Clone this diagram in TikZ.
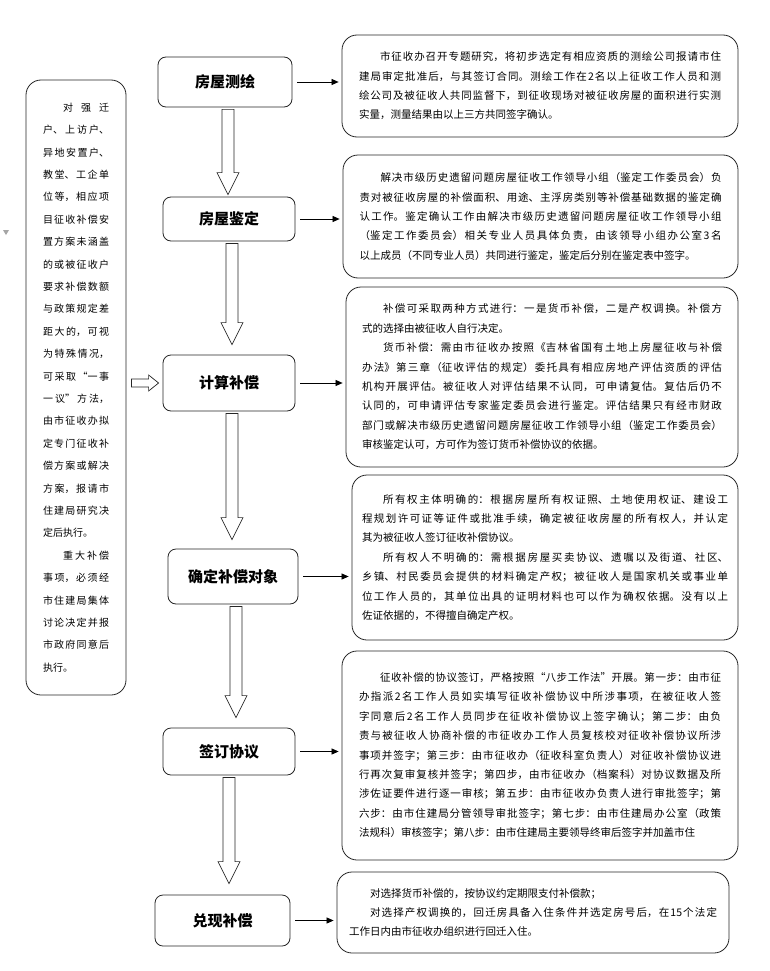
\documentclass[tikz,border=0pt]{standalone}
\usepackage{fontspec}
\setmainfont{Noto Sans CJK SC}
\usetikzlibrary{calc,arrows.meta}
\XeTeXlinebreaklocale "zh"
\XeTeXlinebreakskip=0pt plus 2pt
\tolerance=10000
\hbadness=10000
\hfuzz=20pt
\newcommand\hdown[4]{%
\draw[hollow] let \p1=(#1.south), \p2=(#2.north) in
 (#3pt-6pt,\y1-2pt) -- (#3pt+6pt,\y1-2pt) -- (#3pt+6pt,\y2+#4pt+22pt) -- (#3pt+11pt,\y2+#4pt+22pt) -- (#3pt,\y2+#4pt) -- (#3pt-11pt,\y2+#4pt+22pt) -- (#3pt-6pt,\y2+#4pt+22pt) -- cycle;}
\newcommand\hright[2]{%
\draw[hollow] let \p1=(#1.east), \p2=(#2.west) in
 (\x1+5pt,\y2+4pt) -- (\x2-14pt,\y2+4pt) -- (\x2-14pt,\y2+8pt) -- (\x2-4pt,\y2) -- (\x2-14pt,\y2-8pt) -- (\x2-14pt,\y2-4pt) -- (\x1+5pt,\y2-4pt) -- cycle;}
\tikzset{
  stepbox/.style={draw=black!85, line width=0.8pt, rounded corners=8pt, inner sep=0pt,
    font=\fontsize{15}{18}\selectfont\bfseries},
  descbox/.style={draw=black!85, line width=0.8pt, rounded corners=15pt, inner sep=0pt,
    align=justify, font=\fontsize{10.5}{19.4}\selectfont},
  sidebox/.style={draw=black!85, line width=0.8pt, rounded corners=15pt, inner sep=0pt,
    align=justify, font=\fontsize{10}{22.4}\selectfont},
  conn/.style={draw=black, line width=0.7pt, -{Triangle[length=7pt,width=6pt]}, shorten >=3pt},
  hollow/.style={draw=black!85, line width=0.7pt, fill=white, line join=miter}
}
\begin{document}
\begin{tikzpicture}[x=1pt,y=-1pt]
\useasboundingbox (0,0) rectangle (770,971);
\fill[white] (0,0) rectangle (770,971);
\fill[black!35] (3,230) -- (9,230) -- (6,235) -- cycle;

% step boxes
\node[stepbox, minimum width=134pt, minimum height=50pt] (s1) at (225,82) {房屋测绘};
\node[stepbox, minimum width=132pt, minimum height=44pt] (s2) at (229,219) {房屋鉴定};
\node[stepbox, minimum width=132pt, minimum height=56pt] (s3) at (229,383) {计算补偿};
\node[stepbox, minimum width=130pt, minimum height=55pt] (s4) at (233,576.5) {确定补偿对象};
\node[stepbox, minimum width=132pt, minimum height=47pt] (s5) at (229,751.5) {签订协议};
\node[stepbox, minimum width=135pt, minimum height=51pt] (s6) at (222.5,920.5) {兑现补偿};

% left side box
\node[sidebox, text width=66pt, minimum width=100pt, minimum height=615pt] (L) at (76,387.5) {%
\hspace*{2em}对强迁\linebreak
户、上访户、\linebreak
异地安置户、\linebreak
教堂、工企单\linebreak
位等，相应项\linebreak
目征收补偿安\linebreak
置方案未涵盖\linebreak
的或被征收户\linebreak
要求补偿数额\linebreak
与政策规定差\linebreak
距大的，可视\linebreak
为特殊情况，\linebreak
可采取“一事\linebreak
一议”方法，\linebreak
由市征收办拟\linebreak
定专门征收补\linebreak
偿方案或解决\linebreak
方案，报请市\linebreak
住建局研究决\linebreak
定后执行。\par
\hspace*{2em}重大补偿\linebreak
事项，必须经\linebreak
市住建局集体\linebreak
讨论决定并报\linebreak
市政府同意后\linebreak
执行。};

% description boxes
\node[descbox, text width=362pt, minimum width=396pt, minimum height=102pt] (r1) at (540,86) {%
\hspace*{2em}市征收办召开专题研究，将初步选定有相应资质的测绘公司报请市住\linebreak
建局审定批准后，与其签订合同。测绘工作在2名以上征收工作人员和测\linebreak
绘公司及被征收人共同监督下，到征收现场对被征收房屋的面积进行实测\linebreak
实量，测量结果由以上三方共同签字确认。};

\node[descbox, text width=362pt, minimum width=395pt, minimum height=123pt] (r2) at (540.5,216.5) {%
\hspace*{2em}解决市级历史遗留问题房屋征收工作领导小组（鉴定工作委员会）负\linebreak
责对被征收房屋的补偿面积、用途、主浮房类别等补偿基础数据的鉴定确\linebreak
认工作。鉴定确认工作由解决市级历史遗留问题房屋征收工作领导小组\linebreak
（鉴定工作委员会）相关专业人员具体负责，由该领导小组办公室3名\linebreak
以上成员（不同专业人员）共同进行鉴定，鉴定后分别在鉴定表中签字。};

\node[descbox, text width=360pt, minimum width=392pt, minimum height=180pt] (r3) at (542,377) {%
\hspace*{2em}补偿可采取两种方式进行：一是货币补偿，二是产权调换。补偿方\linebreak
式的选择由被征收人自行决定。\par
\hspace*{2em}货币补偿：需由市征收办按照《吉林省国有土地上房屋征收与补偿\linebreak
办法》第三章（征收评估的规定）委托具有相应房地产评估资质的评估\linebreak
机构开展评估。被征收人对评估结果不认同，可申请复估。复估后仍不\linebreak
认同的，可申请评估专家鉴定委员会进行鉴定。评估结果只有经市财政\linebreak
部门或解决市级历史遗留问题房屋征收工作领导小组（鉴定工作委员会）\linebreak
审核鉴定认可，方可作为签订货币补偿协议的依据。};

\node[descbox, text width=366pt, minimum width=386pt, minimum height=165pt] (r4) at (545,557.5) {%
\hspace*{2em}所有权主体明确的：根据房屋所有权证照、土地使用权证、建设工\linebreak
程规划许可证等证件或批准手续，确定被征收房屋的所有权人，并认定\linebreak
其为被征收人签订征收补偿协议。\par
\hspace*{2em}所有权人不明确的：需根据房屋买卖协议、遗嘱以及街道、社区、\linebreak
乡镇、村民委员会提供的材料确定产权；被征收人是国家机关或事业单\linebreak
位工作人员的，其单位出具的证明材料也可以作为确权依据。没有以上\linebreak
佐证依据的，不得擅自确定产权。};

\node[descbox, text width=362pt, minimum width=396pt, minimum height=209pt] (r5) at (540,755.5) {%
\hspace*{2em}征收补偿的协议签订，严格按照“八步工作法”开展。第一步：由市征\linebreak
办指派2名工作人员如实填写征收补偿协议中所涉事项，在被征收人签\linebreak
字同意后2名工作人员同步在征收补偿协议上签字确认；第二步：由负\linebreak
责与被征收人协商补偿的市征收办工作人员复核校对征收补偿协议所涉\linebreak
事项并签字；第三步：由市征收办（征收科室负责人）对征收补偿协议进\linebreak
行再次复审复核并签字；第四步，由市征收办（档案科）对协议数据及所\linebreak
涉佐证要件进行逐一审核；第五步：由市征收办负责人进行审批签字；第\linebreak
六步：由市住建局分管领导审批签字；第七步：由市住建局办公室（政策\linebreak
法规科）审核签字；第八步：由市住建局主要领导终审后签字并加盖市住};

\node[descbox, text width=368pt, minimum width=392pt, minimum height=81pt] (r6) at (533,912.5) {%
\hspace*{2em}对选择货币补偿的，按协议约定期限支付补偿款；\par
\hspace*{2em}对选择产权调换的，回迁房具备入住条件并选定房号后，在15个法定\linebreak
工作日内由市征收办组织进行回迁入住。};

% connectors to description boxes
\draw[conn] ([xshift=5pt]s1.east) -- (s1.east -| r1.west);
\draw[conn] ([xshift=5pt]s2.east) -- (s2.east -| r2.west);
\draw[conn] ([xshift=5pt]s3.east) -- (s3.east -| r3.west);
\draw[conn] ([xshift=5pt]s4.east) -- (s4.east -| r4.west);
\draw[conn] ([xshift=5pt]s5.east) -- (s5.east -| r5.west);
\draw[conn] ([xshift=5pt]s6.east) -- (s6.east -| r6.west);

% hollow flow arrows
\hdown{s1}{s2}{228}{2}
\hdown{s2}{s3}{232}{10}
\hdown{s3}{s4}{232}{9}
\hdown{s4}{s5}{236}{10}
\hdown{s5}{s6}{229}{11}
\hright{L}{s3}
\end{tikzpicture}
\end{document}
